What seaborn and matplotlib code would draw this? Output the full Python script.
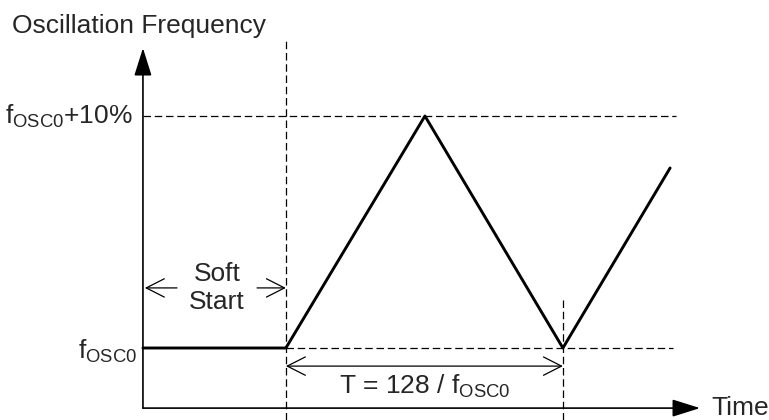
import matplotlib
matplotlib.use("Agg")
import matplotlib.pyplot as plt
import seaborn as sns
import pandas as pd

sns.set_theme(style="white")
plt.rcParams['font.family'] = ['Liberation Sans', 'DejaVu Sans']
plt.rcParams['mathtext.fontset'] = 'custom'
plt.rcParams['mathtext.rm'] = 'Liberation Sans'
plt.rcParams['mathtext.it'] = 'Liberation Sans'
plt.rcParams['mathtext.bf'] = 'Liberation Sans'

# waveform (time in units of T, frequency relative to fosc0)
times = [0.0, 0.516, 1.018, 1.516, 1.903]
freq = [1.0, 1.0, 1.10, 1.0, 1.0776]
soft_start_end = 0.516
period_end = 1.516
f_low = 1.0
f_high = 1.10

df = pd.DataFrame({"time": times, "freq": freq})

fig = plt.figure(figsize=(7.69, 4.2), dpi=100)
ax = fig.add_axes([0, 0, 1, 1])
ax.set_xlim(-0.516, 2.260)
ax.set_ylim(0.96897, 1.15)

dash = (0, (6, 3))
# guide lines
ax.plot([0, 1.924], [f_high, f_high], color="black", lw=0.9, ls=dash)
ax.plot([soft_start_end, 1.913], [f_low, f_low], color="black", lw=0.9, ls=dash)
ax.plot([soft_start_end, soft_start_end], [0.96897, 1.1328], color="black", lw=0.9, ls=dash)
ax.plot([period_end, period_end], [0.96897, 1.0216], color="black", lw=0.9, ls=dash)

# axes with arrows
y0 = 0.9741
solid_head = dict(arrowstyle="-|>,head_length=0.86,head_width=0.27",
                  mutation_scale=20, lw=1.2, color="black", shrinkA=0, shrinkB=0)
ax.annotate("", xy=(0, 1.1293), xytext=(0, y0), arrowprops=solid_head)
ax.annotate("", xy=(2.011, y0), xytext=(0, y0), arrowprops=solid_head)

# waveform
sns.lineplot(data=df, x="time", y="freq", ax=ax, color="black", lw=2.1,
             sort=False, estimator=None)
ax.axis("off")

fs = 19
# soft start arrows
ys = 1.0259
open_head = dict(arrowstyle="->,head_length=0.65,head_width=0.33",
                 mutation_scale=20, lw=0.9, color="black", shrinkA=0, shrinkB=0)
ax.annotate("", xy=(0.007, ys), xytext=(0.123, ys), arrowprops=open_head)
ax.annotate("", xy=(soft_start_end, ys), xytext=(0.412, ys), arrowprops=open_head)
ax.text(0.267, ys, "Soft\nStart", ha="center", va="center", fontsize=fs,
        linespacing=1.2)

# period arrow
yt = 0.9922
ax.annotate("", xy=(period_end, yt), xytext=(soft_start_end, yt),
            arrowprops=dict(arrowstyle="<->,head_length=0.65,head_width=0.33",
                            mutation_scale=20, lw=0.9, color="black",
                            shrinkA=0, shrinkB=0))
ax.text(1.016, 0.9836, r"T = 128 / f$_{\mathrm{OSC0}}$", ha="center", va="center",
        fontsize=fs)

# labels
ax.text(-0.473, 1.139, "Oscillation Frequency", ha="left", va="center", fontsize=fs)
ax.text(-0.036, f_high, r"f$_{\mathrm{OSC0}}$+10%", ha="right", va="center", fontsize=fs)
ax.text(-0.022, 0.9987, r"f$_{\mathrm{OSC0}}$", ha="right", va="center", fontsize=fs)
ax.text(2.051, y0, "Time", ha="left", va="center", fontsize=fs)

fig.savefig("out.png", dpi=100)
